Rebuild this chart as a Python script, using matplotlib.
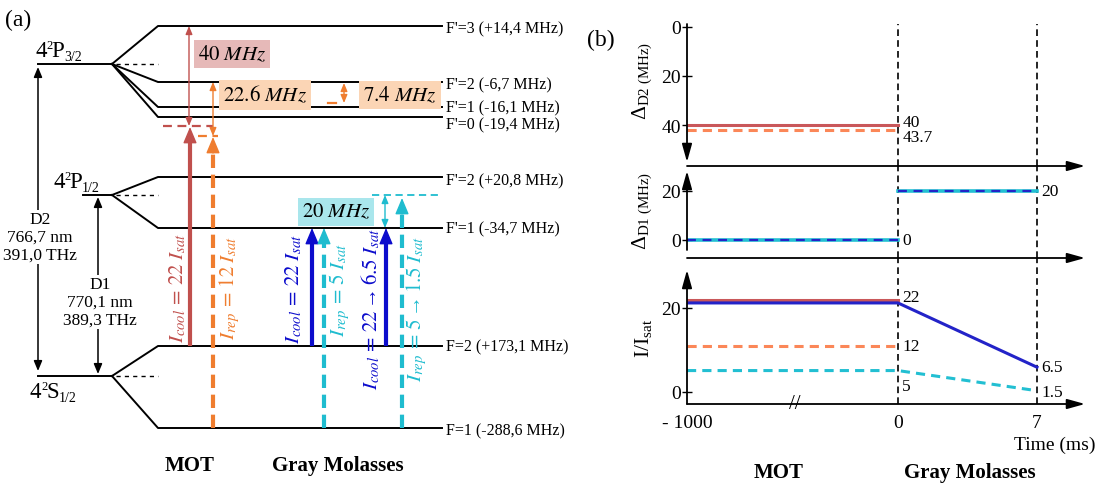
import numpy as np
import matplotlib
matplotlib.use('Agg')
import matplotlib.pyplot as plt

plt.rcParams['font.family'] = ['Liberation Serif', 'DejaVu Serif']
plt.rcParams['mathtext.fontset'] = 'stix'

W, H = 1118, 489

# ---- (a) level diagram data ----
p32_name = ['4', '2', 'P', '3/2']
p12_name = ['4', '2', 'P', '1/2']
s12_name = ['4', '2', 'S', '1/2']
p32_labels = ["F'=3 (+14,4 MHz)", "F'=2 (-6,7 MHz)", "F'=1 (-16,1 MHz)", "F'=0 (-19,4 MHz)"]
p12_labels = ["F'=2 (+20,8 MHz)", "F'=1 (-34,7 MHz)"]
s12_labels = ["F=2 (+173,1 MHz)", "F=1 (-288,6 MHz)"]
d2_text = 'D2\n766,7 nm\n391,0 THz'
d1_text = 'D1\n770,1 nm\n389,3 THz'
mot_cool_text = r'$I_{cool}\,=\,22\;I_{sat}$'
mot_rep_text = r'$I_{rep}\,=\,12\;I_{sat}$'
gm_cool_text = r'$I_{cool}\,=\,22\;I_{sat}$'
gm_rep_text = r'$I_{rep}\,=\,5\;I_{sat}$'
gm_cool_ramp_text = r'$I_{cool}\,=\,22\,\mathregular{→}\,6.5\;I_{sat}$'
gm_rep_ramp_text = r'$I_{rep}\,=\,5\,\mathregular{→}\,1.5\;I_{sat}$'
detuning_boxes = [r'$40\ MHz$', r'$22.6\ MHz$', r'$7.4\ MHz$', r'$20\ MHz$']

# ---- (b) time sequence data ----
t_mot = [-1000, 0]
t_gm = [0, 7]
t_all = [-1000, 0, 7]
d2_cool = [40, 40]
d2_rep = [42, 42]
d2_labels = ['40', '43.7']
d1_mot = [0, 0]
d1_gm = [20, 20]
d1_labels = ['0', '20']
i_cool_mot = [22, 22]
i_cool_gm = [21.2, 21.2, 5.9]
i_rep_mot = [11, 11]
i_rep_gm = [5.1, 5.1, 0.3]
i_labels = ['22', '12', '5', '6.5', '1.5']

RED = '#c0504d'
ORANGE = '#ef7d2f'
BLUE = '#0c0ccc'
CYAN = '#1fbccf'
PINK = '#e6b9b8'
PEACH = '#fbd5b5'
AQUA = '#a9e6ec'
RED_B = '#c9575a'
CORAL = '#fb8758'
CYAN_B = '#22bfd2'
BLUE_B = '#2323c8'

fig = plt.figure(figsize=(W / 100, H / 100), dpi=100)
ax = fig.add_axes([0, 0, 1, 1])
ax.set_xlim(0, W)
ax.set_ylim(H, 0)
ax.axis('off')
renderer = fig.canvas.get_renderer()

FAN0, FAN1, LINE_END, LABEL_X = 112, 158, 442, 446


def manifold(x_left, y0, sub_y, labels, label_y):
    ax.plot([x_left, FAN0], [y0, y0], color='k', lw=1.4)
    ax.plot([FAN0 + 4, FAN1], [y0, y0], color='k', lw=1, ls=(0, (3, 3)))
    for y, lab, ly in zip(sub_y, labels, label_y):
        ax.plot([FAN0, FAN1, LINE_END], [y0, y, y], color='k', lw=1.4)
        ax.text(LABEL_X, ly, lab, va='center', ha='left', fontsize=11.5)


def term_name(x, y, parts):
    # big digit, small raised 2, big letter, small lowered J
    specs = [(16.5, 0), (9, -8), (16.5, 0), (10, 4)]
    for s, (fs, dy) in zip(parts, specs):
        t = ax.text(x, y + dy, s, fontsize=fs, va='baseline', ha='left')
        bb = t.get_window_extent(renderer)
        x = ax.transData.inverted().transform((bb.x1, bb.y0))[0] - 0.5


manifold(38, 65, [27, 83, 108, 118], p32_labels, [29, 85, 108, 125])
manifold(83, 196, [178, 229], p12_labels, [181, 229])
manifold(38, 377, [347, 429], s12_labels, [347, 431])

term_name(35, 57, p32_name)
term_name(53, 188, p12_name)
term_name(30, 398, s12_name)
ax.text(5, 20, '(a)', fontsize=17, va='center', ha='left')


def span(x, y0, y1, color, lw=1.0, ms=8):
    ax.annotate('', xy=(x, y1), xytext=(x, y0),
                arrowprops=dict(arrowstyle='<|-|>,head_length=0.6,head_width=0.25',
                                color=color, lw=lw, shrinkA=0, shrinkB=0,
                                mutation_scale=ms))


# D2 / D1 arrows with their captions
span(38, 372, 68, 'k', lw=1.1, ms=10)
ax.text(40, 238, d2_text, ha='center', va='center', fontsize=12.5, linespacing=1.15,
        bbox=dict(fc='white', ec='none', pad=1))
span(98, 375, 198, 'k', lw=1.1, ms=10)
ax.text(100, 303, d1_text, ha='center', va='center', fontsize=12.5, linespacing=1.15,
        bbox=dict(fc='white', ec='none', pad=1))


def laser(x, y0, y1, color, dashed=False, lw=3.0):
    head = 14
    ls = (0, (3.2, 1.6)) if dashed else '-'
    ax.plot([x, x], [y0, y1 + head], color=color, lw=lw, ls=ls, solid_capstyle='butt')
    ax.annotate('', xy=(x, y1), xytext=(x, y1 + head + 2),
                arrowprops=dict(arrowstyle='-|>,head_length=1.0,head_width=0.42',
                                color=color, lw=1, shrinkA=0, shrinkB=0,
                                mutation_scale=10))


# MOT beams
laser(190, 347, 128, RED)
ax.plot([163, 213], [127, 127], color=RED, lw=1.6, ls=(0, (4, 2.5)))
span(189, 127, 27, RED)
laser(213, 429, 138, ORANGE, dashed=True)
ax.plot([198, 218], [137, 137], color=ORANGE, lw=1.6, ls=(0, (4, 2.5)))
span(213, 137, 83, ORANGE)
span(344, 104, 84, ORANGE)
ax.plot([328, 336], [104, 104], color=ORANGE, lw=1.6)

# gray molasses beams
laser(312, 347, 229, BLUE)
laser(324, 429, 229, CYAN, dashed=True)
laser(386, 347, 229, BLUE)
laser(402, 429, 199, CYAN, dashed=True)
ax.plot([372, 442], [196, 196], color=CYAN, lw=1.3, ls=(0, (4, 2.5)))
span(385, 229, 196, CYAN)

box_kw = dict(ha='center', va='center', fontsize=15)
ax.text(232, 55, detuning_boxes[0], bbox=dict(boxstyle='square,pad=0.2', fc=PINK, ec='none'), **box_kw)
ax.text(265, 96, detuning_boxes[1], bbox=dict(boxstyle='square,pad=0.2', fc=PEACH, ec='none'), **box_kw)
ax.text(400, 96, detuning_boxes[2], bbox=dict(boxstyle='square,pad=0.2', fc=PEACH, ec='none'), **box_kw)
ax.text(336, 213, detuning_boxes[3], bbox=dict(boxstyle='square,pad=0.2', fc=AQUA, ec='none'), **box_kw)

rot_kw = dict(rotation=90, ha='center', va='center', fontsize=15)
ax.text(178, 288, mot_cool_text, color=RED, **rot_kw)
ax.text(230, 288, mot_rep_text, color=ORANGE, **rot_kw)
ax.text(294, 289, gm_cool_text, color=BLUE, **rot_kw)
ax.text(340, 290, gm_rep_text, color=CYAN, **rot_kw)
ax.text(371, 309, gm_cool_ramp_text, color=BLUE, **rot_kw)
ax.text(417, 309, gm_rep_ramp_text, color=CYAN, **rot_kw)

ax.text(190, 466, 'MOT', ha='center', va='center', fontsize=15, fontweight='bold')
ax.text(338, 466, 'Gray Molasses', ha='center', va='center', fontsize=15, fontweight='bold')

# ---- (b) ----
ax.text(587, 40, '(b)', fontsize=17, va='center', ha='left')
ax.text(779, 473, 'MOT', ha='center', va='center', fontsize=15, fontweight='bold')
ax.text(970, 473, 'Gray Molasses', ha='center', va='center', fontsize=15, fontweight='bold')
ax.text(1095, 445, 'Time (ms)', ha='right', va='center', fontsize=14)
ax.text(642, 81, r'$\mathregular{\Delta_{D2\ (MHz)}}$', rotation=90, ha='center', va='center', fontsize=15.5)
ax.text(642, 211, r'$\mathregular{\Delta_{D1\ (MHz)}}$', rotation=90, ha='center', va='center', fontsize=15.5)
ax.text(644, 338, r'$\mathregular{I/I_{sat}}$', rotation=90, ha='center', va='center', fontsize=15.5)

MOT_PX, GM_PX = 211, 139


def fwd(t):
    t = np.asarray(t, float)
    return np.where(t <= 0, (t + 1000) / 1000 * MOT_PX, MOT_PX + t / 7 * GM_PX)


def inv(p):
    p = np.asarray(p, float)
    return np.where(p <= MOT_PX, p / MOT_PX * 1000 - 1000, (p - MOT_PX) / GM_PX * 7)


X0, X1 = 687, 1085


def seq_axes(top, bottom, ylim, yticks, arrow_from, arrow_to):
    a = fig.add_axes([X0 / W, 1 - bottom / H, (X1 - X0) / W, (bottom - top) / H])
    a.set_facecolor('none')
    a.set_xscale('function', functions=(fwd, inv))
    a.set_xlim(-1000, (X1 - X0 - MOT_PX) / GM_PX * 7)
    a.set_ylim(*ylim)
    for s in a.spines.values():
        s.set_visible(False)
    a.set_yticks(yticks)
    a.tick_params(axis='y', direction='inout', length=7, width=1, labelsize=14, pad=1)
    a.tick_params(axis='x', length=0, labelsize=14, pad=7)
    a.set_xticks([])
    arrow = dict(arrowstyle='-|>,head_length=0.9,head_width=0.25', color='k', lw=1.3,
                 shrinkA=0, shrinkB=0, mutation_scale=12)
    a.annotate('', xy=(1, 0), xytext=(0, 0), xycoords='axes fraction', arrowprops=arrow,
               annotation_clip=False)
    fa = (bottom - arrow_from) / (bottom - top)
    fb = (bottom - arrow_to) / (bottom - top)
    a.annotate('', xy=(0, fb), xytext=(0, fa), xycoords='axes fraction', arrowprops=arrow,
               annotation_clip=False)
    for t in (0, 7):
        a.axvline(t, color='k', lw=1.2, ls=(0, (4, 2.5)))
    return a


lab_kw = dict(textcoords='offset points', ha='left', va='center', fontsize=12.5)

a1 = seq_axes(25, 167, (56.7, -1.2), [0, 20, 40], 25, 163)
a1.plot(t_mot, d2_cool, color=RED_B, lw=2.2)
a1.plot(t_mot, d2_rep, color=CORAL, lw=2.2, ls=(0, (3, 2)))
a1.annotate(d2_labels[0], (t_mot[1], d2_cool[1]), xytext=(3, 2), **lab_kw)
a1.annotate(d2_labels[1], (t_mot[1], d2_rep[1]), xytext=(3, -5), **lab_kw)

a2 = seq_axes(167, 259, (-7.35, 30.2), [0, 20], 251, 172)
a2.plot(t_mot, d1_mot, color=CYAN_B, lw=2.6)
a2.plot(t_mot, d1_mot, color=BLUE_B, lw=1.6, ls=(0, (4, 3)))
a2.plot(t_gm, d1_gm, color=CYAN_B, lw=2.6)
a2.plot(t_gm, d1_gm, color=BLUE_B, lw=1.6, ls=(0, (4, 3)))
a2.annotate(d1_labels[0], (t_mot[1], d1_mot[1]), xytext=(3, 0), **lab_kw)
a2.annotate(d1_labels[1], (t_gm[1], d1_gm[1]), xytext=(3, 0), **lab_kw)

a3 = seq_axes(259, 405, (-2.86, 31.9), [0, 20], 405, 271)
a3.plot(t_mot, i_cool_mot, color=RED_B, lw=2.2)
a3.plot(t_all, i_cool_gm, color=BLUE_B, lw=2.2)
a3.plot(t_mot, i_rep_mot, color=CORAL, lw=2.2, ls=(0, (3, 2)))
a3.plot(t_all, i_rep_gm, color=CYAN_B, lw=2.2, ls=(0, (3, 2)))
a3.annotate(i_labels[0], (t_mot[1], i_cool_mot[1]), xytext=(3, 2), **lab_kw)
a3.annotate(i_labels[1], (t_mot[1], i_rep_mot[1]), xytext=(3, 0), **lab_kw)
a3.annotate(i_labels[2], (t_mot[1], i_rep_gm[1]), xytext=(3, -11), **lab_kw)
a3.annotate(i_labels[3], (t_all[2], i_cool_gm[2]), xytext=(3, 0), **lab_kw)
a3.annotate(i_labels[4], (t_all[2], i_rep_gm[2]), xytext=(3, -1), **lab_kw)
a3.set_xticks(t_all, ['- 1000', '0', '7'])
a3.text(-488, -2.86, '//', ha='center', va='center', fontsize=15)

fig.savefig('out.png', dpi=100)
